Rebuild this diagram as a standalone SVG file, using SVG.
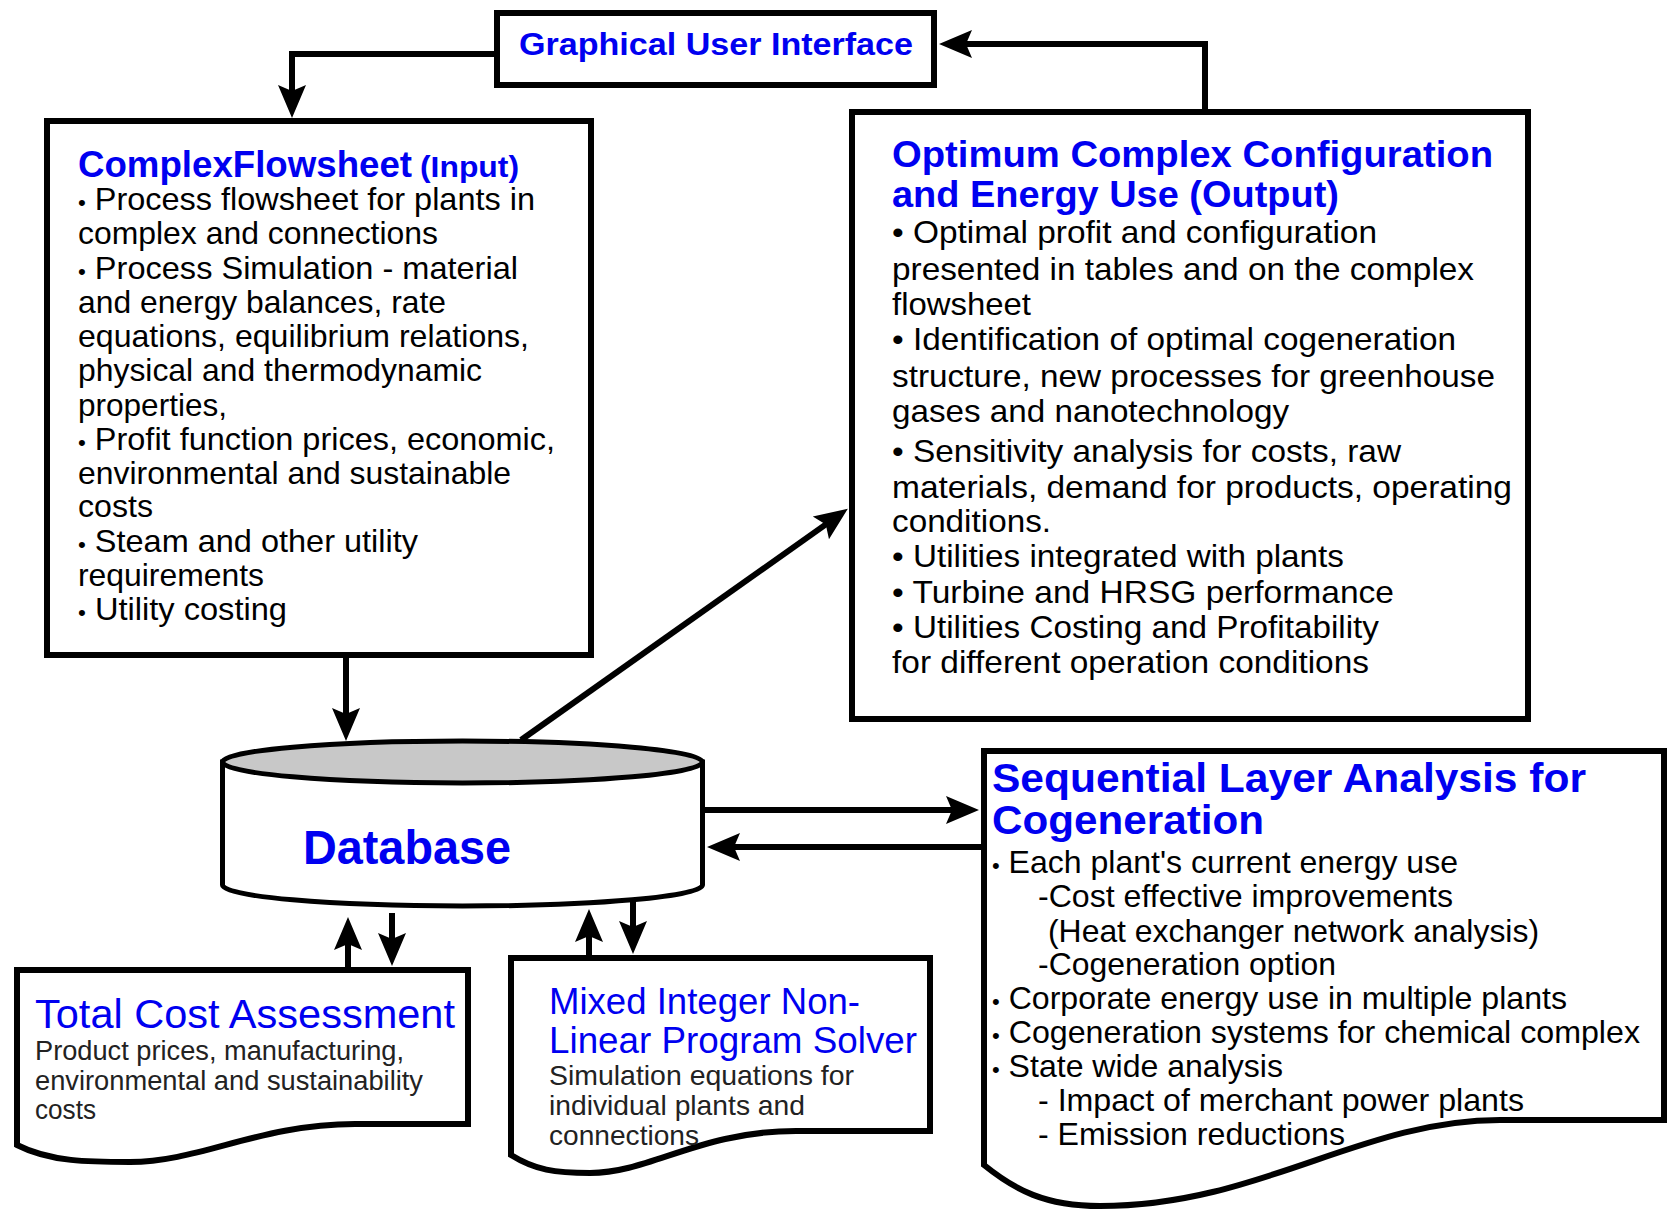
<svg xmlns="http://www.w3.org/2000/svg" width="1669" height="1212" viewBox="0 0 1669 1212">
<style>
.box{fill:#fff;stroke:#000;stroke-width:6}
.con{fill:none;stroke:#000;stroke-width:6}
.t{font-family:"Liberation Sans",Arial,sans-serif;fill:#000}
.b{font-weight:bold;fill:#0000f0}
.blue{fill:#0000f0}
.body{font-size:32px}
.small{font-size:27px;fill:#222}
.sb{font-size:22px}
</style>
<defs>
<marker id="ah" viewBox="-14 -15 36 30" refX="0" refY="0" markerWidth="36" markerHeight="30" markerUnits="userSpaceOnUse" orient="auto">
<path d="M20,0 L-13,-14 L-7,0 L-13,14 Z" fill="#000"/>
</marker>
</defs>
<rect width="1669" height="1212" fill="#fff"/>

<g id="connectors">
<path class="con" d="M494,54 H292 V98" marker-end="url(#ah)"/>
<path class="con" d="M1205,109 V44 H959" marker-end="url(#ah)"/>
<path class="con" d="M346,658 V721" marker-end="url(#ah)"/>
<path class="con" d="M521,740 L831.5,520.4" marker-end="url(#ah)"/>
<path class="con" d="M705,810 H959" marker-end="url(#ah)"/>
<path class="con" d="M981,847 H727" marker-end="url(#ah)"/>
<path class="con" d="M348,967 V937" marker-end="url(#ah)"/>
<path class="con" d="M392,913 V946" marker-end="url(#ah)"/>
<path class="con" d="M589,955 V929" marker-end="url(#ah)"/>
<path class="con" d="M633,901 V934" marker-end="url(#ah)"/>
</g>

<g id="gui">
<rect class="box" x="497" y="13" width="437" height="72"/>
<text class="t b" x="519" y="55" font-size="31" textLength="394" lengthAdjust="spacingAndGlyphs">Graphical User Interface</text>
</g>

<g id="complexflowsheet">
<rect class="box" x="47" y="121" width="544" height="534"/>
<text class="t b" x="78" y="177" font-size="36" textLength="334" lengthAdjust="spacingAndGlyphs">ComplexFlowsheet</text>
<text class="t b" x="420" y="177" font-size="30" textLength="99" lengthAdjust="spacingAndGlyphs">(Input)</text>
<g class="t body">
<text x="78" y="210" textLength="457" lengthAdjust="spacingAndGlyphs"><tspan class="sb">•</tspan> Process flowsheet for plants in</text>
<text x="78" y="244" textLength="360" lengthAdjust="spacingAndGlyphs">complex and connections</text>
<text x="78" y="279" textLength="440" lengthAdjust="spacingAndGlyphs"><tspan class="sb">•</tspan> Process Simulation - material</text>
<text x="78" y="313" textLength="368" lengthAdjust="spacingAndGlyphs">and energy balances, rate</text>
<text x="78" y="347" textLength="451" lengthAdjust="spacingAndGlyphs">equations, equilibrium relations,</text>
<text x="78" y="381" textLength="404" lengthAdjust="spacingAndGlyphs">physical and thermodynamic</text>
<text x="78" y="416" textLength="149" lengthAdjust="spacingAndGlyphs">properties,</text>
<text x="78" y="450" textLength="477" lengthAdjust="spacingAndGlyphs"><tspan class="sb">•</tspan> Profit function prices, economic,</text>
<text x="78" y="484" textLength="433" lengthAdjust="spacingAndGlyphs">environmental and sustainable</text>
<text x="78" y="517" textLength="75" lengthAdjust="spacingAndGlyphs">costs</text>
<text x="78" y="552" textLength="340" lengthAdjust="spacingAndGlyphs"><tspan class="sb">•</tspan> Steam and other utility</text>
<text x="78" y="586" textLength="186" lengthAdjust="spacingAndGlyphs">requirements</text>
<text x="78" y="620" textLength="209" lengthAdjust="spacingAndGlyphs"><tspan class="sb">•</tspan> Utility costing</text>
</g>
</g>

<g id="optimum">
<rect class="box" x="852" y="112" width="676" height="607"/>
<text class="t b" x="892" y="167" font-size="36" textLength="601" lengthAdjust="spacingAndGlyphs">Optimum Complex Configuration</text>
<text class="t b" x="892" y="207" font-size="36" textLength="447" lengthAdjust="spacingAndGlyphs">and Energy Use (Output)</text>
<g class="t body">
<text x="892" y="243" textLength="485" lengthAdjust="spacingAndGlyphs">• Optimal profit and configuration</text>
<text x="892" y="280" textLength="582" lengthAdjust="spacingAndGlyphs">presented in tables and on the complex</text>
<text x="892" y="315" textLength="139" lengthAdjust="spacingAndGlyphs">flowsheet</text>
<text x="892" y="350" textLength="564" lengthAdjust="spacingAndGlyphs">• Identification of optimal cogeneration</text>
<text x="892" y="387" textLength="603" lengthAdjust="spacingAndGlyphs">structure, new processes for greenhouse</text>
<text x="892" y="422" textLength="397" lengthAdjust="spacingAndGlyphs">gases and nanotechnology</text>
<text x="892" y="462" textLength="509" lengthAdjust="spacingAndGlyphs">• Sensitivity analysis for costs, raw</text>
<text x="892" y="498" textLength="620" lengthAdjust="spacingAndGlyphs">materials, demand for products, operating</text>
<text x="892" y="532" textLength="159" lengthAdjust="spacingAndGlyphs">conditions.</text>
<text x="892" y="567" textLength="452" lengthAdjust="spacingAndGlyphs">• Utilities integrated with plants</text>
<text x="892" y="603" textLength="502" lengthAdjust="spacingAndGlyphs">• Turbine and HRSG performance</text>
<text x="892" y="638" textLength="487" lengthAdjust="spacingAndGlyphs">• Utilities Costing and Profitability</text>
<text x="892" y="673" textLength="477" lengthAdjust="spacingAndGlyphs">for different operation conditions</text>
</g>
</g>

<g id="database">
<path d="M222.5,762 V885 A240,21 0 0 0 702.5,885 V762 Z" fill="#fff" stroke="#000" stroke-width="5"/>
<ellipse cx="462.5" cy="762" rx="240" ry="21" fill="#c8c8c8" stroke="#000" stroke-width="5"/>
<text class="t b" x="303" y="864" font-size="48" textLength="208" lengthAdjust="spacingAndGlyphs">Database</text>
</g>

<g id="sequential">
<path class="box" d="M984,751 H1664 V1120 H1500 C1360,1120 1260,1206 1100,1206 C1045,1206 1015,1190 984,1165 Z"/>
<text class="t b" x="992" y="792" font-size="40" textLength="594" lengthAdjust="spacingAndGlyphs">Sequential Layer Analysis for</text>
<text class="t b" x="992" y="834" font-size="40" textLength="272" lengthAdjust="spacingAndGlyphs">Cogeneration</text>
<g class="t body">
<text x="992" y="873" textLength="466" lengthAdjust="spacingAndGlyphs"><tspan class="sb">•</tspan> Each plant's current energy use</text>
<text x="1038" y="907" textLength="415" lengthAdjust="spacingAndGlyphs">-Cost effective improvements</text>
<text x="1048" y="942" textLength="491" lengthAdjust="spacingAndGlyphs">(Heat exchanger network analysis)</text>
<text x="1038" y="975" textLength="298" lengthAdjust="spacingAndGlyphs">-Cogeneration option</text>
<text x="992" y="1009" textLength="575" lengthAdjust="spacingAndGlyphs"><tspan class="sb">•</tspan> Corporate energy use in multiple plants</text>
<text x="992" y="1043" textLength="648" lengthAdjust="spacingAndGlyphs"><tspan class="sb">•</tspan> Cogeneration systems for chemical complex</text>
<text x="992" y="1077" textLength="291" lengthAdjust="spacingAndGlyphs"><tspan class="sb">•</tspan> State wide analysis</text>
<text x="1038" y="1111" textLength="486" lengthAdjust="spacingAndGlyphs">- Impact of merchant power plants</text>
<text x="1038" y="1145" textLength="307" lengthAdjust="spacingAndGlyphs">- Emission reductions</text>
</g>
</g>

<g id="totalcost">
<path class="box" d="M17,970 H468 V1124 H355 C260,1124 200,1162 130,1162 C90,1162 50,1162 17,1145 Z"/>
<text class="t blue" x="35" y="1028" font-size="41" textLength="420" lengthAdjust="spacingAndGlyphs">Total Cost Assessment</text>
<g class="t small">
<text x="35" y="1060" textLength="369" lengthAdjust="spacingAndGlyphs">Product prices, manufacturing,</text>
<text x="35" y="1090" textLength="388" lengthAdjust="spacingAndGlyphs">environmental and sustainability</text>
<text x="35" y="1119" textLength="61" lengthAdjust="spacingAndGlyphs">costs</text>
</g>
</g>

<g id="minlp">
<path class="box" d="M511,958 H930 V1131 H796 C700,1131 650,1173 590,1173 C555,1173 535,1170 511,1155 Z"/>
<text class="t blue" x="549" y="1014" font-size="37" textLength="311" lengthAdjust="spacingAndGlyphs">Mixed Integer Non-</text>
<text class="t blue" x="549" y="1053" font-size="37" textLength="368" lengthAdjust="spacingAndGlyphs">Linear Program Solver</text>
<g class="t small">
<text x="549" y="1085" font-size="28" textLength="305" lengthAdjust="spacingAndGlyphs">Simulation equations for</text>
<text x="549" y="1115" font-size="28" textLength="256" lengthAdjust="spacingAndGlyphs">individual plants and</text>
<text x="549" y="1145" font-size="28" textLength="150" lengthAdjust="spacingAndGlyphs">connections</text>
</g>
</g>
</svg>
